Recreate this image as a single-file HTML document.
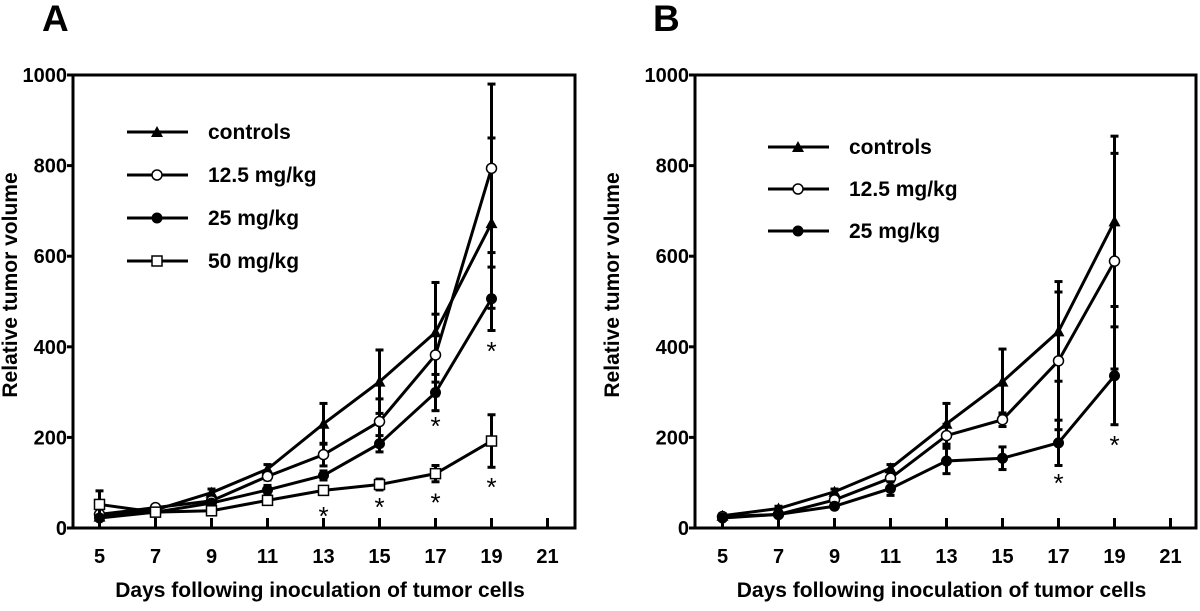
<!DOCTYPE html>
<html><head><meta charset="utf-8"><style>
body{margin:0;background:#fff;}
svg{display:block;font-family:"Liberation Sans",Arial,sans-serif;font-weight:bold;}
</style></head><body>
<svg id="fig" width="1200" height="611" viewBox="0 0 1200 611"></svg>
<script>
const days = [5,7,9,11,13,15,17,19];
const xTicks = [5,7,9,11,13,15,17,19,21];
const yTicks = [0,200,400,600,800,1000];
const seriesNames = ["controls","12.5 mg/kg","25 mg/kg","50 mg/kg"];
const markers = ["triangle","circle-open","circle-filled","square-open"];
// Panel A
const aControls = [25,40,78,130,230,323,432,673];
const aLow = [30,45,60,114,162,235,382,794];
const aMid = [22,35,55,84,116,186,299,506];
const aHigh = [52,35,38,61,83,96,120,192];
const aControlsErr = [8,6,8,10,45,70,110,188];
const aLowErr = [5,5,6,8,25,50,90,186];
const aMidErr = [5,5,5,10,10,18,40,70];
const aHighErr = [30,5,5,5,5,12,18,58];
const aStarDays = [13,15,17,17,19,19];
const aStarVals = [38,57,236,67,402,101];
// Panel B
const bControls = [27,43,80,132,230,323,434,677];
const bLow = [25,30,62,110,204,239,369,589];
const bMid = [22,30,48,87,148,154,188,336];
const bControlsErr = [5,5,6,8,45,72,110,188];
const bLowErr = [5,5,6,8,25,15,152,238];
const bMidErr = [5,5,5,15,28,25,50,108];
const bStarDays = [17,19];
const bStarVals = [110,194];

const NS="http://www.w3.org/2000/svg";
const svg=document.getElementById('fig');
function mk(tag,attrs,parent){const e=document.createElementNS(NS,tag);for(const k in attrs)e.setAttribute(k,attrs[k]);(parent||svg).appendChild(e);return e;}

function panel(cfg){
  const g=mk('g',{});
  
  
  const L=cfg.left,R=cfg.right,T=75,B=528;
  const xs=d=>cfg.x5+(d-5)*28;
  const ys=v=>B-(v/1000)*(B-T);
  const lbl=mk('text',{x:cfg.letterX,y:31,'font-size':37},g);lbl.textContent=cfg.letter;
  
  
  const frame=mk('rect',{x:L,y:T,width:R-L,height:B-T,fill:'none',stroke:'#000','stroke-width':3},g);
  
  
  yTicks.forEach(v=>{
    mk('line',{x1:L-6,x2:L,y1:ys(v),y2:ys(v),stroke:'#000','stroke-width':3},g);
    const t=mk('text',{x:L-6,y:ys(v)+7,'font-size':20,'text-anchor':'end'},g);t.textContent=v;
    
    
  });
  xTicks.forEach(d=>{
    mk('line',{x1:xs(d),x2:xs(d),y1:B-10,y2:B,stroke:'#000','stroke-width':3},g);
    const t=mk('text',{x:xs(d),y:563,'font-size':20,'text-anchor':'middle'},g);t.textContent=d;
    
    
  });
  const xt=mk('text',{x:(L+R)/2+cfg.xtOff,y:597,'font-size':21,'text-anchor':'middle'},g);
  xt.textContent='Days following inoculation of tumor cells';
  
  
  const yt=mk('text',{x:0,y:0,'font-size':21,'text-anchor':'middle',transform:`translate(${cfg.ytX},${285}) rotate(-90)`},g);
  yt.textContent='Relative tumor volume';
  
  
  function marker(type,x,y,par){
    let m;
    if(type==='triangle') m=mk('polygon',{points:`${x},${y-6} ${x-6},${y+5} ${x+6},${y+5}`,fill:'#000'},par);
    else if(type==='circle-open') m=mk('circle',{cx:x,cy:y,r:5,fill:'#fff',stroke:'#000','stroke-width':1.5},par);
    else if(type==='circle-filled') m=mk('circle',{cx:x,cy:y,r:5.5,fill:'#000'},par);
    else m=mk('rect',{x:x-5,y:y-5,width:10,height:10,fill:'#fff',stroke:'#000','stroke-width':1.5},par);
    return m;
  }
  cfg.series.forEach((s,i)=>{
    const sg=mk('g',{},g);
    
    
    s.vals.forEach((v,j)=>{
      const x=xs(days[j]),e=s.err[j];
      mk('line',{x1:x,x2:x,y1:ys(v+e),y2:ys(Math.max(0,v-e)),stroke:'#000','stroke-width':3},sg);
      mk('line',{x1:x-4,x2:x+4,y1:ys(v+e),y2:ys(v+e),stroke:'#000','stroke-width':3},sg);
      mk('line',{x1:x-4,x2:x+4,y1:ys(Math.max(0,v-e)),y2:ys(Math.max(0,v-e)),stroke:'#000','stroke-width':3},sg);
    });
    const pl=mk('polyline',{points:s.vals.map((v,j)=>xs(days[j])+','+ys(v)).join(' '),fill:'none',stroke:'#000','stroke-width':3},sg);
    
    
    s.vals.forEach((v,j)=>{
      const m=marker(markers[i],xs(days[j]),ys(v),sg);
      
      
    });
  });
  cfg.starDays.forEach((d,k)=>{
    const t=mk('text',{x:xs(d),y:ys(cfg.starVals[k])+14,'font-size':26,'font-weight':'normal','text-anchor':'middle'},g);
    t.textContent='*';
    
    
  });
  const lg=mk('g',{},g);
  
  
  cfg.series.forEach((s,i)=>{
    const y=cfg.legY[i];
    const eg=mk('g',{},lg);
    
    
    mk('line',{x1:cfg.legX,x2:cfg.legX+61,y1:y,y2:y,stroke:'#000','stroke-width':3},eg);
    marker(markers[i],cfg.legX+30,y,eg);
    const t=mk('text',{x:cfg.legX+81,y:y+7,'font-size':21},eg);t.textContent=seriesNames[i];
  });
}
panel({name:'panel-a',letter:'A',letterX:42,left:73,right:575,x5:99.5,xtOff:-4,ytX:17,legX:127,legY:[132,175,218,261],
  series:[{vals:aControls,err:aControlsErr},{vals:aLow,err:aLowErr},{vals:aMid,err:aMidErr},{vals:aHigh,err:aHighErr}],
  starDays:aStarDays,starVals:aStarVals});
panel({name:'panel-b',letter:'B',letterX:653,left:695,right:1196,x5:722.5,xtOff:-4,ytX:619,legX:768,legY:[147,189,231],
  series:[{vals:bControls,err:bControlsErr},{vals:bLow,err:bLowErr},{vals:bMid,err:bMidErr}],
  starDays:bStarDays,starVals:bStarVals});
</script>
</body></html>
